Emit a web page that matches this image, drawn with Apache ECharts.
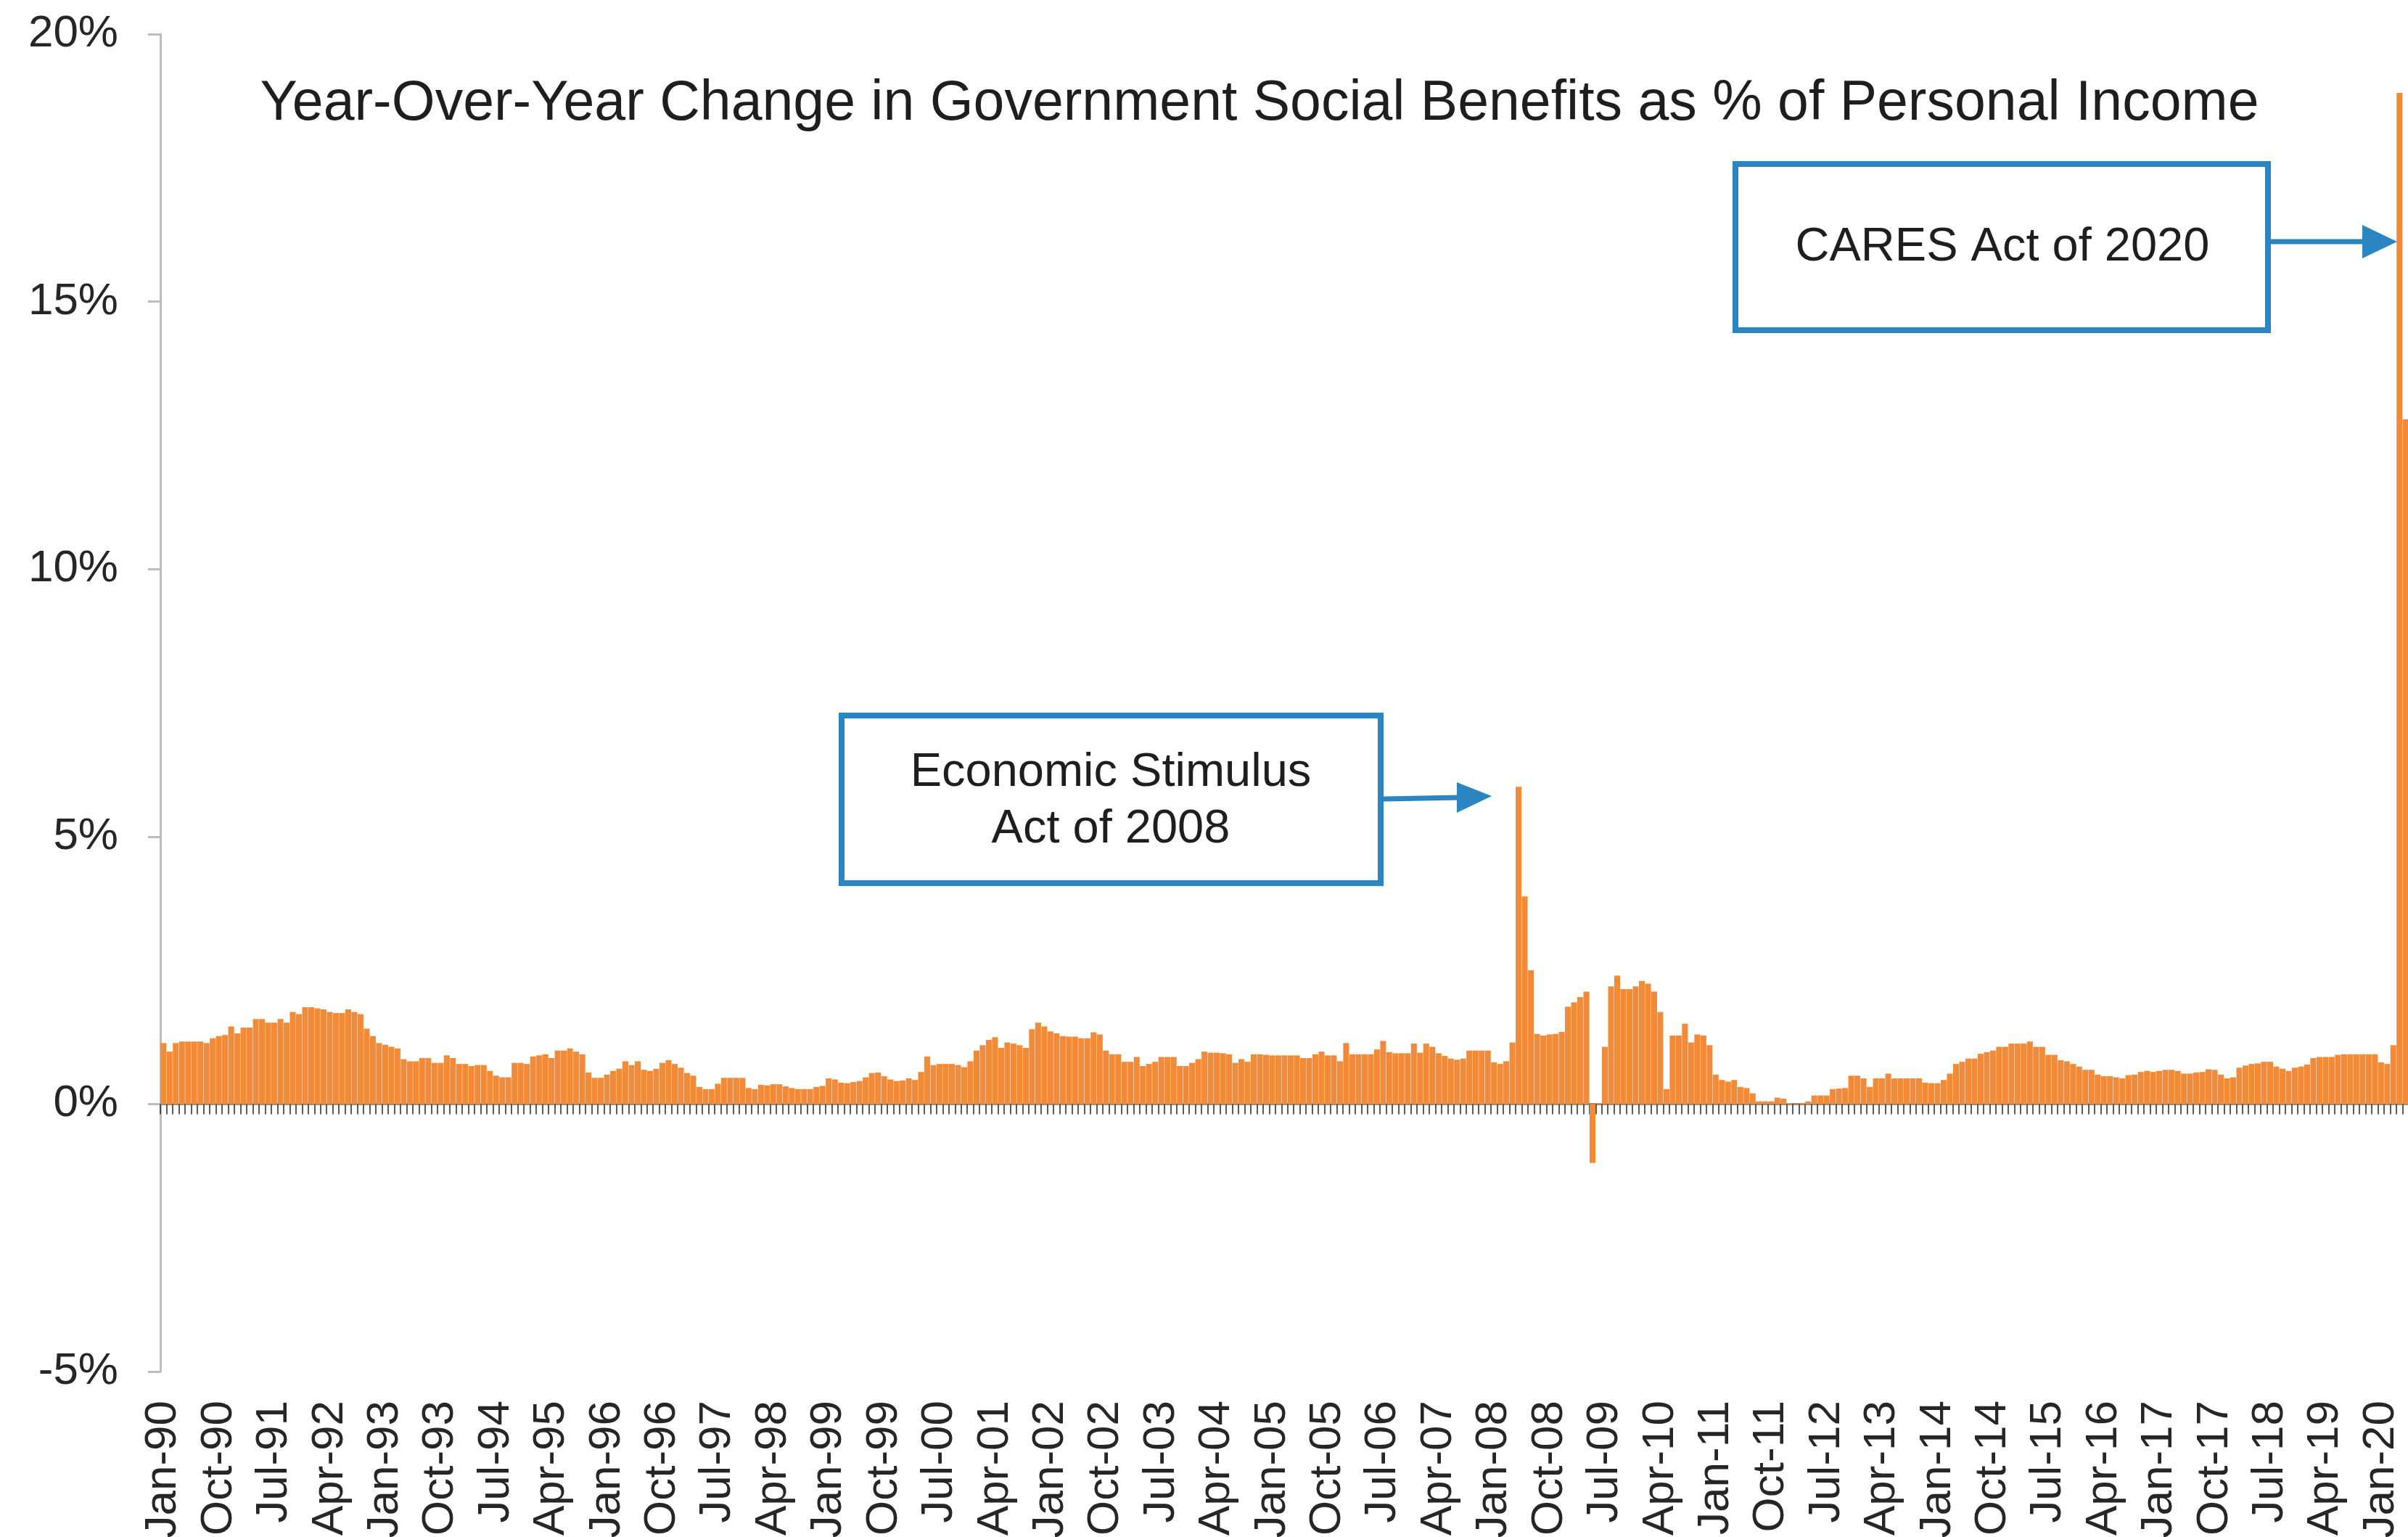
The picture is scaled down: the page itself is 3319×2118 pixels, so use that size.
<!DOCTYPE html>
<html>
<head>
<meta charset="utf-8">
<script src="https://cdn.jsdelivr.net/npm/echarts@6/dist/echarts.min.js"></script>
<style>
html,body{margin:0;padding:0;background:#ffffff;}
#chart{width:3319px;height:2118px;}
</style>
</head>
<body>
<div id="chart"></div>
<script>
// ---- data ----
const monthNames = ['Jan','Feb','Mar','Apr','May','Jun','Jul','Aug','Sep','Oct','Nov','Dec'];
const startYear = 1990;

// YoY change in government social benefits as % of personal income (percentage points), Jan-90 .. May-20
const values = [
 1.14,0.98,1.14,1.17,1.17,1.17,1.17,1.14,1.23,1.27,1.29,1.45,
 1.32,1.43,1.43,1.59,1.59,1.52,1.52,1.59,1.52,1.72,1.68,1.81,
 1.81,1.79,1.77,1.72,1.70,1.70,1.77,1.72,1.68,1.41,1.27,1.14,
 1.11,1.07,1.04,0.84,0.80,0.80,0.86,0.86,0.77,0.77,0.91,0.86,
 0.75,0.75,0.71,0.73,0.73,0.62,0.53,0.50,0.50,0.77,0.77,0.75,
 0.89,0.91,0.93,0.86,1.00,1.00,1.04,0.98,0.93,0.59,0.49,0.49,
 0.55,0.62,0.66,0.80,0.73,0.80,0.64,0.62,0.66,0.77,0.82,0.75,
 0.68,0.58,0.53,0.32,0.28,0.28,0.38,0.49,0.49,0.49,0.49,0.30,
 0.28,0.36,0.35,0.37,0.37,0.33,0.30,0.28,0.28,0.28,0.32,0.34,
 0.48,0.46,0.40,0.39,0.41,0.43,0.50,0.58,0.59,0.52,0.46,0.43,
 0.44,0.48,0.45,0.60,0.89,0.73,0.75,0.75,0.75,0.73,0.69,0.80,
 1.00,1.10,1.20,1.25,1.05,1.15,1.13,1.10,1.05,1.40,1.52,1.45,
 1.36,1.32,1.27,1.26,1.26,1.23,1.23,1.34,1.30,1.00,0.93,0.93,
 0.79,0.79,0.88,0.71,0.75,0.79,0.88,0.88,0.88,0.71,0.71,0.77,
 0.84,0.98,0.96,0.96,0.95,0.93,0.77,0.84,0.79,0.93,0.93,0.92,
 0.91,0.91,0.91,0.91,0.91,0.86,0.86,0.93,0.98,0.91,0.91,0.80,
 1.14,0.93,0.93,0.93,0.93,1.02,1.18,0.97,0.95,0.95,0.95,1.13,
 0.96,1.13,1.07,0.95,0.90,0.85,0.83,0.85,1.00,1.00,1.00,1.00,
 0.78,0.75,0.80,1.15,5.93,3.88,2.50,1.31,1.28,1.30,1.31,1.35,
 1.82,1.90,2.00,2.10,-1.10,0.02,1.07,2.20,2.40,2.15,2.15,2.20,
 2.30,2.25,2.10,1.72,0.28,1.28,1.28,1.50,1.15,1.30,1.28,1.10,
 0.55,0.45,0.42,0.45,0.32,0.30,0.20,0.05,0.05,0.05,0.12,0.10,
 0.02,0.00,0.02,0.05,0.16,0.16,0.16,0.28,0.29,0.30,0.53,0.53,
 0.48,0.32,0.48,0.48,0.57,0.48,0.48,0.48,0.48,0.48,0.40,0.39,
 0.39,0.45,0.57,0.75,0.79,0.85,0.85,0.94,0.97,1.00,1.07,1.07,
 1.13,1.13,1.13,1.17,1.07,1.07,0.92,0.92,0.82,0.80,0.75,0.70,
 0.64,0.64,0.55,0.52,0.52,0.50,0.48,0.54,0.55,0.60,0.62,0.60,
 0.62,0.64,0.64,0.62,0.57,0.57,0.59,0.60,0.65,0.64,0.55,0.48,
 0.50,0.68,0.72,0.75,0.76,0.79,0.79,0.70,0.66,0.62,0.68,0.70,
 0.74,0.86,0.88,0.88,0.88,0.92,0.93,0.93,0.93,0.93,0.93,0.93,
 0.78,0.75,1.10,18.90,12.80
];

const categories = values.map((v, i) =>
  monthNames[i % 12] + '-' + String((startYear + Math.floor(i / 12)) % 100).padStart(2, '0'));

const yMin = -5, yMax = 20, yStep = 5;
const titleText = 'Year-Over-Year Change in Government Social Benefits as % of Personal Income';
const note1Lines = ['Economic Stimulus', 'Act of 2008'];
const note2Lines = ['CARES Act of 2020'];

// ---- chart ----
const FONT = '"Liberation Sans", Arial, Helvetica, sans-serif';
const BLUE = '#2A85C2';
const chart = echarts.init(document.getElementById('chart'), null, {renderer: 'canvas'});

const option = {
  animation: false,
  backgroundColor: '#ffffff',
  grid: {left: 221, top: 47, width: 3099, height: 1843, containLabel: false, outerBoundsMode: 'none'},
  xAxis: [
    {
      type: 'category', data: categories, position: 'bottom',
      axisLine: {show: true, onZero: true, lineStyle: {color: '#8C8C8C', width: 3}},
      axisTick: {show: true, interval: 0, length: 14, lineStyle: {color: '#333333', width: 1.6}},
      axisLabel: {show: false},
      splitLine: {show: false}
    },
    {
      type: 'category', data: categories, position: 'bottom',
      axisLine: {show: false, onZero: false},
      axisTick: {show: false},
      axisLabel: {show: true, interval: 8, rotate: 90, fontSize: 62, color: '#262626', margin: 40, fontFamily: FONT},
      splitLine: {show: false}
    }
  ],
  yAxis: {
    type: 'value', min: yMin, max: yMax, interval: yStep,
    axisLine: {show: true, lineStyle: {color: '#BDBDBD', width: 3}},
    axisTick: {show: true, length: 17, lineStyle: {color: '#BDBDBD', width: 3}},
    splitLine: {show: false},
    axisLabel: {formatter: '{value}%', fontSize: 62, color: '#262626', margin: 58, fontFamily: FONT}
  },
  series: [{
    type: 'bar', data: values, xAxisIndex: 0, yAxisIndex: 0,
    barCategoryGap: '5%',
    itemStyle: {color: '#F38A38'}
  }],
  graphic: [
    {type: 'text', x: 1736, y: 144, z: 10,
     style: {text: titleText, font: '77px ' + FONT, fill: '#1e1e1e', textAlign: 'center', textVerticalAlign: 'middle'}},
    // Economic Stimulus box + arrow
    {type: 'rect', z: 10, shape: {x: 1160, y: 986, width: 743, height: 231},
     style: {fill: '#ffffff', stroke: BLUE, lineWidth: 8}},
    {type: 'text', x: 1531, y: 1065, z: 11,
     style: {text: note1Lines[0], font: '65px ' + FONT, fill: '#1e1e1e', textAlign: 'center', textVerticalAlign: 'middle'}},
    {type: 'text', x: 1531, y: 1143, z: 11,
     style: {text: note1Lines[1], font: '65px ' + FONT, fill: '#1e1e1e', textAlign: 'center', textVerticalAlign: 'middle'}},
    {type: 'line', z: 10, shape: {x1: 1907, y1: 1101, x2: 2012, y2: 1099},
     style: {stroke: BLUE, lineWidth: 7}},
    {type: 'polygon', z: 10, shape: {points: [[2008, 1078], [2056, 1097], [2008, 1120]]},
     style: {fill: BLUE}},
    // CARES box + arrow
    {type: 'rect', z: 10, shape: {x: 2392, y: 226, width: 734, height: 229},
     style: {fill: '#ffffff', stroke: BLUE, lineWidth: 8}},
    {type: 'text', x: 2760, y: 341, z: 11,
     style: {text: note2Lines[0], font: '65px ' + FONT, fill: '#1e1e1e', textAlign: 'center', textVerticalAlign: 'middle'}},
    {type: 'line', z: 10, shape: {x1: 3130, y1: 333, x2: 3262, y2: 333},
     style: {stroke: BLUE, lineWidth: 7}},
    {type: 'polygon', z: 10, shape: {points: [[3256, 310], [3304, 333], [3256, 356]]},
     style: {fill: BLUE}}
  ]
};
chart.setOption(option);
</script>
</body>
</html>
